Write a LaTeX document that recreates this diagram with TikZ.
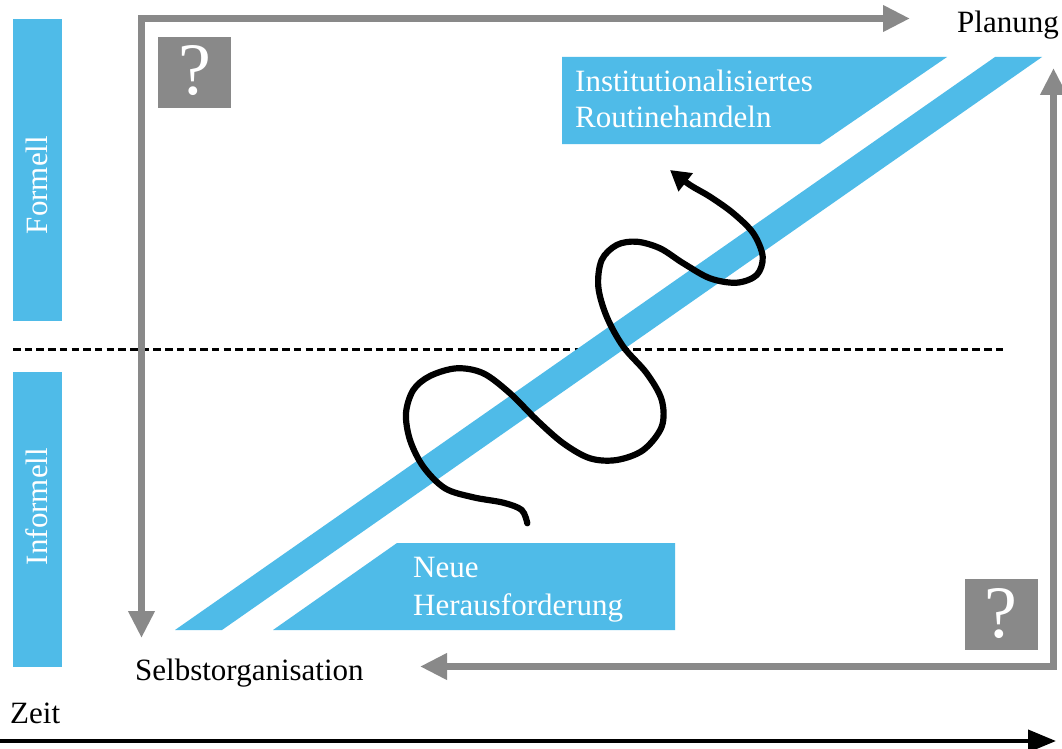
\documentclass[tikz,border=0pt]{standalone}
\usepackage{fontspec}
\setmainfont{Liberation Serif}
\usetikzlibrary{arrows.meta}
\definecolor{bandblue}{HTML}{4FBBE8}
\definecolor{qgray}{HTML}{898989}
\tikzset{
  txt/.style={font=\fontsize{31}{37}\selectfont, inner sep=0pt, anchor=base west},
  wtxt/.style={txt, text=white},
  grayarrow/.style={draw=qgray, line width=7pt, {Triangle[length=27pt,width=25pt]}-{Triangle[length=27pt,width=25pt]}},
  qbox/.style={fill=qgray, minimum width=73pt, minimum height=71pt, inner sep=0pt},
  qmark/.style={text=white, inner sep=0pt, anchor=base, font=\fontsize{74}{74}\selectfont},
  wiggle/.style={draw=black, line width=6.2pt, line cap=round, -{Triangle[length=20pt,width=22pt]}},
}
\begin{document}
\begin{tikzpicture}[x=1pt,y=-1pt]
\useasboundingbox (0,0) rectangle (1062,749);
\fill[white] (0,0) rectangle (1062,749);

% left bars
\fill[bandblue] (13,19) rectangle (62,321);
\fill[bandblue] (13,372) rectangle (62,667);
\node[font=\fontsize{31}{37}\selectfont, text=white, inner sep=0pt, rotate=90, anchor=base] (formell) at (47,185) {Formell};
\node[font=\fontsize{31}{37}\selectfont, text=white, inner sep=0pt, rotate=90, anchor=base] (informell) at (47,506.5) {Informell};

% dashed line
\coordinate (dashL) at (13,349);
\coordinate (dashR) at (1003,349);
\draw[line width=3pt, dash pattern=on 7.5pt off 4.2pt] (dashL) -- (dashR);

% blue band and boxes
\fill[bandblue] (175,630) -- (222,630) -- (1042,57) -- (995,57) -- cycle;
\fill[bandblue] (562,57) -- (947,57) -- (820,144) -- (562,144) -- cycle;
\fill[bandblue] (397,543) -- (675,543) -- (675,630) -- (273,630) -- cycle;
\node[wtxt] (inst) at (575,92) {Institutionalisiertes};
\node[wtxt] (rout) at (575,128) {Routinehandeln};
\node[wtxt] (neue) at (413,577) {Neue};
\node[wtxt] (hera) at (413,615) {Herausforderung};

% question boxes
\node[qbox] (q1) at (194.5,72.5) {};
\node[qmark] (q1m) at (194.5,95) {?};
\node[qbox] (q2) at (1001,614.5) {};
\node[qmark] (q2m) at (1001,637) {?};

% labels
\node[txt] (planung) at (957,33) {Planung};
\node[txt] (selbst) at (135,680) {Selbstorganisation};
\node[txt] (zeit) at (10,723) {Zeit};

% gray connectors
\coordinate (tlA) at (141.5,638);
\coordinate (tlB) at (910,18.5);
\draw[grayarrow] (tlA) |- (tlB);
\coordinate (brA) at (420,666.5);
\coordinate (brB) at (1053.5,68);
\draw[grayarrow] (brA) -| (brB);

% time arrow
\coordinate (tA) at (0,741);
\coordinate (tB) at (1056,741);
\draw[line width=4pt, -{Triangle[length=28pt,width=22pt]}] (tA) -- (tB);

% wiggle arrow
\coordinate (wstart) at (527.3,523.3);
\coordinate (wend) at (670,170);
\draw[wiggle] plot[smooth, tension=0.55] coordinates {
 (wstart) (521.7,510) (503.3,502.7) (473.3,497.3) (445,488.3) (423.3,466.7)
 (410,440) (406,413.3) (413.3,390) (430,376) (456.7,368.3) (483.3,373.3)
 (510,393.3) (536.7,420) (563.3,443.3) (590,458.3) (616.7,460) (643.3,450)
 (661.7,426.7) (661.7,400) (646.7,373.3) (623.3,346.7) (606.7,316.7)
 (598.3,286.7) (601.7,260) (616.7,245) (636.7,241.7) (660,248.3)
 (683.3,263.3) (710,278.3) (736.7,282.7) (756.7,275) (762.7,256.7)
 (753.3,233.3) (733.3,213.3) (710,196.7) (690,185) (wend)};
\end{tikzpicture}
\end{document}
